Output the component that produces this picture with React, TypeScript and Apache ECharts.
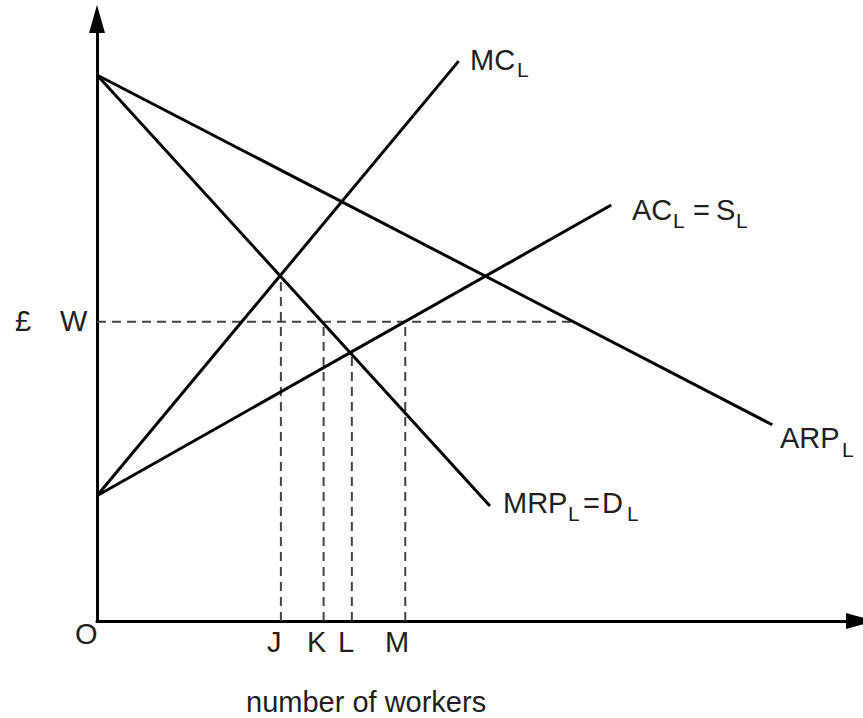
import React, { useEffect, useRef } from "react";
import * as echarts from "echarts";

// Axis ranges (abstract units: x = number of workers, y = £)
const X_MAX = 100;
const Y_MAX = 100;

// Curves: each is [start, end] in data units
const mcL = [[0, 20.8], [47.4, 93.0]];
const mrpL = [[0, 90.7], [51.5, 19.1]];
const arpL = [[0, 90.7], [88.5, 32.6]];
const acL = [[0, 20.8], [67.4, 69.1]];

// Wage level W and its dashed guide
const wageW = 49.7;
const wageLineEnd = 62.3;

// Quantities J, K, L, M and the heights their dashed guides reach
const quantityLabels = ["J", "K", "L", "M"];
const quantityValues = [24.1, 29.7, 33.4, 40.4];
const quantityTops = [57.3, 49.7, 44.5, 49.7];

const FONT = "'Liberation Sans', Arial, Helvetica, sans-serif";
const TEXT_COLOR = "#231f20";
const MAIN = 29;
const SUB = 21;

function txt(text: string, x: number, y: number, size: number) {
  return {
    type: "text",
    x,
    y,
    silent: true,
    style: {
      text,
      fill: TEXT_COLOR,
      font: `${size}px ${FONT}`,
      align: "left",
      verticalAlign: "middle",
      textAlign: "left",
      textVerticalAlign: "middle",
    },
  };
}

export default function App() {
  const ref = useRef<HTMLDivElement>(null);

  useEffect(() => {
    if (!ref.current) return;
    const chart = echarts.init(ref.current, undefined, { renderer: "svg" });

    const solid = (name: string, data: number[][]) => ({
      name,
      type: "line",
      data,
      symbol: "none",
      silent: true,
      lineStyle: { color: "#000", width: 3 },
    });
    const dashed = (name: string, data: number[][]) => ({
      name,
      type: "line",
      data,
      symbol: "none",
      silent: true,
      lineStyle: { color: "#444", width: 2, type: [9, 6] },
    });

    const guides = quantityValues.map((q, i) =>
      dashed("guide-" + quantityLabels[i], [
        [q, 0],
        [q, quantityTops[i]],
      ])
    );

    const labelXs = [267, 307, 338, 385];

    chart.setOption({
      animation: false,
      grid: { left: 97, right: 3, top: 19, bottom: 97 },
      xAxis: {
        type: "value",
        min: 0,
        max: X_MAX,
        axisLine: {
          show: true,
          onZero: false,
          symbol: ["none", "triangle"],
          symbolSize: [16, 28],
          lineStyle: { color: "#000", width: 3 },
        },
        axisTick: { show: false },
        axisLabel: { show: false },
        splitLine: { show: false },
      },
      yAxis: {
        type: "value",
        min: 0,
        max: Y_MAX,
        axisLine: {
          show: true,
          onZero: false,
          symbol: ["none", "triangle"],
          symbolSize: [16, 28],
          lineStyle: { color: "#000", width: 3 },
        },
        axisTick: { show: false },
        axisLabel: { show: false },
        splitLine: { show: false },
      },
      series: [
        dashed("W", [
          [0, wageW],
          [wageLineEnd, wageW],
        ]),
        ...guides,
        solid("MC_L", mcL),
        solid("MRP_L", mrpL),
        solid("ARP_L", arpL),
        solid("AC_L", acL),
      ],
      graphic: [
        txt("MC", 470, 59.5, MAIN),
        txt("L", 517, 69, SUB),
        txt("AC", 632, 210, MAIN),
        txt("L", 673, 220, SUB),
        txt("=", 693, 210, MAIN),
        txt("S", 716, 210, MAIN),
        txt("L", 736, 220, SUB),
        txt("MRP", 503, 502.5, MAIN),
        txt("L", 568, 513, SUB),
        txt("=", 583, 502.5, MAIN),
        txt("D", 602, 502.5, MAIN),
        txt("L", 627, 513, SUB),
        txt("ARP", 780, 438, MAIN),
        txt("L", 842, 449, SUB),
        txt("£", 15, 321, MAIN),
        txt("W", 60, 321, MAIN),
        txt("O", 75, 634, MAIN),
        ...quantityLabels.map((l, i) => txt(l, labelXs[i], 641.5, MAIN)),
        txt("number of workers", 246, 702, MAIN),
      ],
    });

    return () => chart.dispose();
  }, []);

  return (
    <div
      ref={ref}
      style={{ position: "absolute", left: 0, top: 0, width: 863, height: 718 }}
    />
  );
}
